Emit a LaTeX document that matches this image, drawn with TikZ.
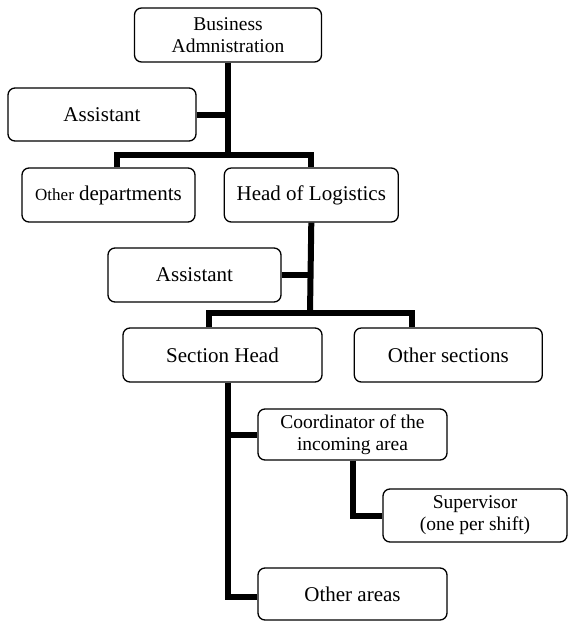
\documentclass[tikz,border=0pt]{standalone}
\usepackage{fontspec}
\setmainfont{Liberation Serif}
\usepackage{tikz}
\usetikzlibrary{positioning,calc}

\begin{document}
\begin{tikzpicture}[x=1pt, y=-1pt,
		unit/.style={rectangle, draw=black, line width=1.3pt, rounded corners=7pt,
				text centered, text=black, inner sep=0pt, font=\fontsize{21}{24}\selectfont},
		unittwo/.style={unit, align=center, font=\fontsize{19.5}{22}\selectfont},
		link/.style={line width=6pt, line join=miter}]
	\useasboundingbox (0,0) rectangle (568,621);

	\node (busadm) [unittwo, minimum width=187pt, minimum height=54pt] at (228,35) {Business\\Admnistration};

	\node (asstone) [unit, minimum width=188pt, minimum height=53pt] at (102,114.5) {Assistant};

	\node (otherdep) [unit, minimum width=173pt, minimum height=54pt] at (108.5,195) {{\fontsize{17}{20}\selectfont Other} departments};

	\node (headlog) [unit, minimum width=174pt, minimum height=54pt, right=28pt of otherdep] {Head of Logistics};

	\node (assttwo) [unit, minimum width=173pt, minimum height=54pt] at (194.5,275) {Assistant};

	\node (sechead) [unit, minimum width=199pt, minimum height=54pt] at (222.5,355) {Section Head};

	\node (othersec) [unit, minimum width=188pt, minimum height=54pt, right=31pt of sechead] {Other sections};

	\node (coord) [unittwo, minimum width=189pt, minimum height=51pt] at (352.5,434.5) {Coordinator of the\\incoming area};

	\node (superv) [unittwo, minimum width=184pt, minimum height=53pt] at (475,515.5) {Supervisor\\(one per shift)};

	\node (otherarea) [unit, minimum width=189pt, minimum height=52pt] at (352.5,594) {Other areas};

	\coordinate (busone) at (228,155);
	\coordinate (bustwo) at (310,313);
	\coordinate (trunk) at (228,597);

	\draw [link] (busone |- busadm.south) -- (busone);
	\draw [link] (asstone.east) -- (asstone.east -| busone);
	\draw [link] ([xshift=8.5pt]otherdep.north) |- (busone) -| (headlog.north);

	\draw [link] (headlog.south) -- (bustwo);
	\draw [link] (assttwo.east) -- (assttwo.east -| bustwo);
	\draw [link] ([xshift=-13.5pt]sechead.north) |- (bustwo) -| ([xshift=-36pt]othersec.north);

	\draw [link] (trunk |- sechead.south) -- (trunk) -- (trunk -| otherarea.west);
	\draw [link] (coord.west -| trunk) -- (coord.west);
	\draw [link] (coord.south) |- (superv.west);
\end{tikzpicture}
\end{document}
